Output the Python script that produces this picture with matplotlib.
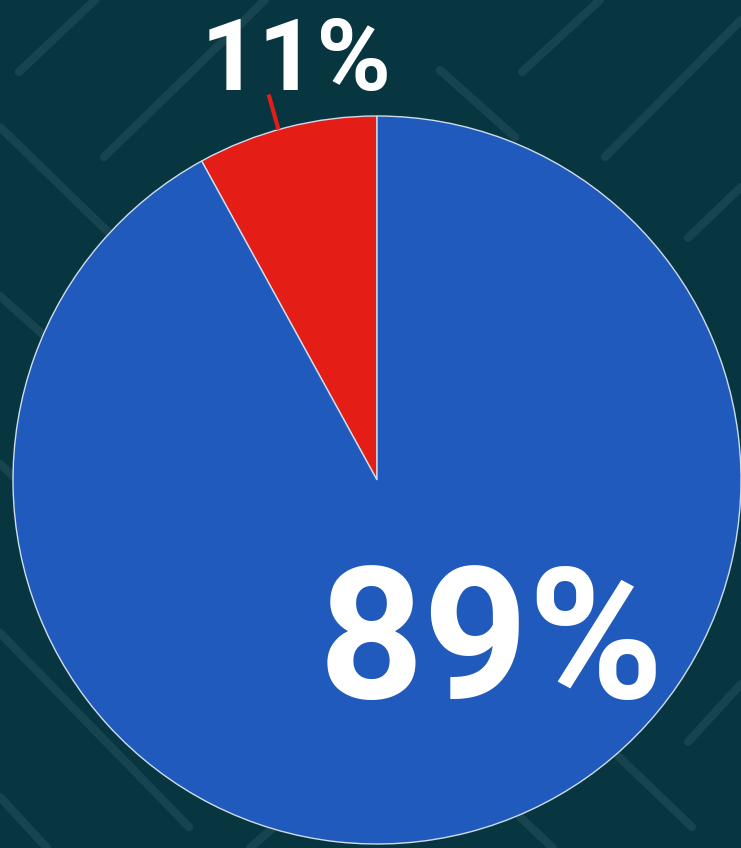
import numpy as np
import matplotlib
matplotlib.use("Agg")
import matplotlib.pyplot as plt

# wedge sizes as drawn (percent of circle), order: red slice first, then blue
shares = [8.0, 92.0]
pct_labels = ["11%", "89%"]
colors = ["#e41e17", "#1f5abc"]

bg = "#073641"
stripe = "#17444f"

W, H = 741, 848
fig = plt.figure(figsize=(W / 100, H / 100), dpi=100, facecolor=bg)
ax = fig.add_axes([0, 0, 1, 1])
ax.set_facecolor(bg)

# background diagonal stripes (pixel coords, y from top)
stripes = [
    ((19, 72), (95, 0)), ((104, 157), (265, 0)), ((0, 127), (109, 233)),
    ((440, 70), (515, 137)), ((522, 72), (600, 0)), ((605, 157), (741, 20)),
    ((688, 238), (741, 187)), ((0, 296), (60, 350)), ((0, 464), (20, 482)),
    ((0, 633), (189, 827)), ((0, 797), (47, 848)), ((688, 742), (741, 684)),
    ((619, 757), (692, 827)), ((520, 817), (553, 848)), ((250, 848), (274, 827)),
]
for (x0, y0), (x1, y1) in stripes:
    ax.plot([x0, x1], [H - y0, H - y1], color=stripe, lw=6, solid_capstyle="round", zorder=0)

cx, cy, r = 377, H - 480, 364
wedges, _ = ax.pie(shares, colors=colors, startangle=90, counterclock=True,
                   center=(cx, cy), radius=r, frame=True,
                   wedgeprops=dict(edgecolor="#cfdcea", linewidth=1.0))
ax.set_xlim(0, W)
ax.set_ylim(0, H)
ax.set_aspect("equal")
ax.axis("off")

# leader line for the small slice
w = wedges[0]
mid = np.deg2rad((w.theta1 + w.theta2) / 2 + 1.3)
ax.plot([cx + r * np.cos(mid), cx + 1.1 * r * np.cos(mid)],
        [cy + r * np.sin(mid), cy + 1.1 * r * np.sin(mid)],
        color=colors[0], lw=3, solid_capstyle="butt")

font = ["Roboto", "DejaVu Sans"]
ax.text(296, H - 90, pct_labels[0], color="white", fontsize=73, fontweight="bold",
        family=font, ha="center", va="baseline")
ax.text(491, H - 698, pct_labels[1], color="white", fontsize=132, fontweight="bold",
        family=font, ha="center", va="baseline")

fig.savefig("out.png", dpi=100, facecolor=bg)
